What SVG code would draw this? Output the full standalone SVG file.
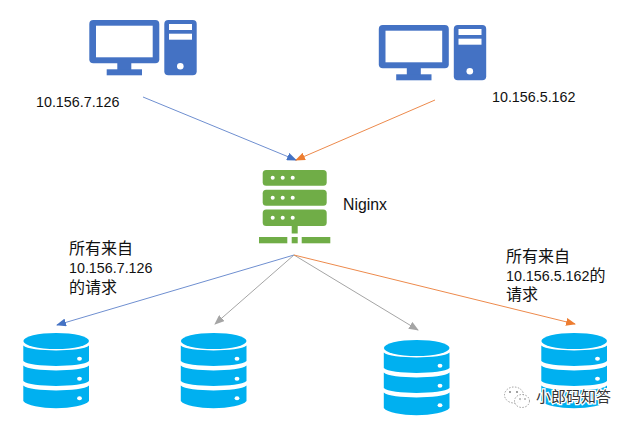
<svg xmlns="http://www.w3.org/2000/svg" width="631" height="426" viewBox="0 0 631 426">
<style>
.pc{fill:#4472c4}.w{fill:#fff}.srv{fill:#70ad47}.db{fill:#00b0f0}
text{font-family:"Liberation Sans","Noto Sans CJK SC",sans-serif;font-size:14.3px;fill:#111}
.zh{font-size:16px}
.l{fill:none;stroke-width:1}
.b{stroke:#6f8fd0}.o{stroke:#ed8a4c}.g{stroke:#a5a5a5}
</style>
<defs>
<marker id="ab" markerUnits="userSpaceOnUse" markerWidth="10" markerHeight="8" refX="9" refY="4" orient="auto"><path d="M0 0L10 4L0 8Z" fill="#4472c4"/></marker>
<marker id="ao" markerUnits="userSpaceOnUse" markerWidth="10" markerHeight="8" refX="9" refY="4" orient="auto"><path d="M0 0L10 4L0 8Z" fill="#ed7d31"/></marker>
<marker id="ag" markerUnits="userSpaceOnUse" markerWidth="10" markerHeight="8" refX="9" refY="4" orient="auto"><path d="M0 0L10 4L0 8Z" fill="#a5a5a5"/></marker>
<g id="pcShape">
<rect class="pc" x="89.3" y="20" width="70" height="43.3" rx="4"/>
<rect class="w" x="96" y="25.7" width="56.7" height="31.6"/>
<rect class="pc" x="117.3" y="63" width="14" height="7"/>
<rect class="pc" x="106.7" y="69.3" width="35.3" height="6"/>
<rect class="pc" x="164.3" y="20" width="32.4" height="55.3" rx="4"/>
<rect class="w" x="169" y="24" width="23" height="6"/>
<rect class="w" x="169" y="33.7" width="23" height="6"/>
<circle class="w" cx="180.3" cy="66.3" r="3.3"/>
</g>
<g id="dbShape">
<path class="db" d="M23.3 345.5C30 352 82 352 89 345.5V361C82 367.5 30 367.5 23.3 361Z"/>
<path class="db" d="M23.3 365.5C30 372 82 372 89 365.5V381C82 387.5 30 387.5 23.3 381Z"/>
<path class="db" d="M23.3 385.5C30 392 82 392 89 385.5V401C82 410.5 30 410.5 23.3 401Z"/>
<ellipse class="db" cx="56.2" cy="341" rx="32.8" ry="8"/>
<ellipse class="w" cx="79.5" cy="358.7" rx="2.4" ry="2"/>
<ellipse class="w" cx="79.5" cy="378.7" rx="2.4" ry="2"/>
<ellipse class="w" cx="79.5" cy="398.3" rx="2.4" ry="2"/>
</g>
</defs>
<g id="connectors">
<line class="l b" x1="143" y1="97" x2="296" y2="160" marker-end="url(#ab)"/>
<line class="l o" x1="435" y1="100" x2="296" y2="160" marker-end="url(#ao)"/>
<line class="l b" x1="294" y1="255" x2="57" y2="325" marker-end="url(#ab)"/>
<line class="l g" x1="294" y1="255" x2="215" y2="324" marker-end="url(#ag)"/>
<line class="l g" x1="294" y1="255" x2="418" y2="330" marker-end="url(#ag)"/>
<line class="l o" x1="294" y1="255" x2="575" y2="324" marker-end="url(#ao)"/>
</g>
<g id="client1"><use href="#pcShape"/><text x="36" y="107">10.156.7.126</text></g>
<g id="client2"><use href="#pcShape" x="289.5" y="5"/><text x="492" y="102">10.156.5.162</text></g>
<g id="nginx">
<rect class="srv" x="262.7" y="170" width="64" height="15.7" rx="3.5"/>
<rect class="srv" x="262.7" y="189.7" width="64" height="16" rx="3.5"/>
<rect class="srv" x="262.7" y="209.5" width="64" height="16.5" rx="3.5"/>
<g class="w"><circle cx="272.7" cy="177.7" r="2"/><circle cx="282.7" cy="177.7" r="2"/><circle cx="292.7" cy="177.7" r="2"/>
<circle cx="272.7" cy="197.7" r="2"/><circle cx="282.7" cy="197.7" r="2"/><circle cx="292.7" cy="197.7" r="2"/>
<circle cx="272.7" cy="217.7" r="2"/><circle cx="282.7" cy="217.7" r="2"/><circle cx="292.7" cy="217.7" r="2"/></g>
<rect class="srv" x="291.7" y="226" width="6" height="7.5"/>
<rect class="srv" x="259" y="237" width="28.3" height="6.3"/>
<rect class="srv" x="291.7" y="237" width="6" height="6.3"/>
<rect class="srv" x="301.7" y="237" width="28.6" height="6.3"/>
<text x="343" y="210" style="font-size:15.8px">Niginx</text>
</g>
<g id="db1"><use href="#dbShape"/></g>
<g id="db2"><use href="#dbShape" x="157.5"/></g>
<g id="db3"><use href="#dbShape" x="360.5" y="7"/></g>
<g id="db4"><use href="#dbShape" x="518"/></g>
<g id="label1"><text class="zh" x="69" y="254">所有来自</text><text x="69" y="273">10.156.7.126</text><text class="zh" x="69" y="293">的请求</text></g>
<g id="label2"><text class="zh" x="506" y="262">所有来自</text><text x="506" y="281">10.156.5.162<tspan class="zh">的</tspan></text><text class="zh" x="506" y="300">请求</text></g>
<g id="watermark">
<g fill="#fff" fill-opacity=".85" stroke="#777" stroke-width=".7" stroke-dasharray="1.5 1.5"><ellipse cx="514" cy="395" rx="9.5" ry="8"/><ellipse cx="522" cy="401" rx="7.5" ry="6.5"/></g>
<g fill="#777"><circle cx="510" cy="392" r=".9"/><circle cx="517" cy="392" r=".9"/><circle cx="520" cy="399" r=".8"/><circle cx="525" cy="399" r=".8"/></g>
<text x="536" y="402" style="font-size:15px;fill:#333;stroke:#fff;stroke-width:2.5px;paint-order:stroke">小郎码知答</text>
</g>
</svg>
